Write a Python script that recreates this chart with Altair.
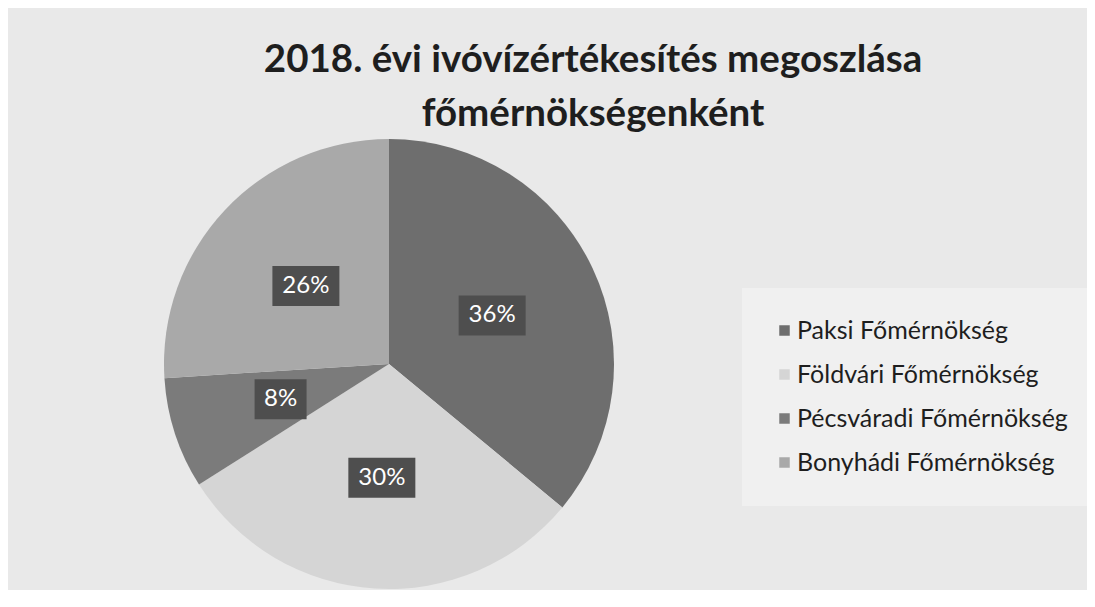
import altair as alt
import pandas as pd

categories = ["Paksi Főmérnökség", "Földvári Főmérnökség", "Pécsváradi Főmérnökség", "Bonyhádi Főmérnökség"]
shares = [36, 30, 8, 26]
labels = ["36%", "30%", "8%", "26%"]
colors = ["#6e6e6e", "#d5d5d5", "#7b7b7b", "#a9a9a9"]
title_lines = ["2018. évi ivóvízértékesítés megoszlása", "főmérnökségenként"]

df = pd.DataFrame({"cat": categories, "share": shares, "label": labels,
                   "idx": list(range(len(categories)))})

W, H = 762, 452
R = 225
RL = 114
FONT = "Lato"

color_scale = alt.Scale(domain=categories, range=colors)
xs = alt.Scale(domain=[-W / 2, W / 2], nice=False, zero=False)
ys = alt.Scale(domain=[-H / 2, H / 2], nice=False, zero=False, reverse=True)

base = alt.Chart(df)

pie = base.mark_arc(outerRadius=R).encode(
    theta=alt.Theta("share:Q", stack=True),
    order=alt.Order("idx:Q"),
    color=alt.Color("cat:N", scale=color_scale, sort=categories,
                    legend=alt.Legend(title=None, orient="none", legendX=734, legendY=150,
                                      padding=30, fillColor="#f0f0f0",
                                      symbolType="square", symbolSize=110,
                                      symbolStrokeWidth=0, symbolOpacity=1,
                                      labelFont=FONT, labelFontSize=25, labelColor="#1e1e1e",
                                      labelOffset=0, rowPadding=18, labelLimit=400)),
)

pos = base.transform_window(
    cum="sum(share)", sort=[alt.SortField("idx")], frame=[None, 0]
).transform_joinaggregate(total="sum(share)").transform_calculate(
    ang="(datum.cum - datum.share / 2) / datum.total * 2 * PI",
    px=f"{RL} * sin(datum.ang)",
    py=f"-{RL} * cos(datum.ang)",
    hw="11 + 7.5 * length(datum.label)",
    bx1="datum.px - datum.hw",
    bx2="datum.px + datum.hw",
    by1="datum.py - 20",
    by2="datum.py + 20",
)

boxes = pos.mark_rect(color="#4e4e4e").encode(
    x=alt.X("bx1:Q", scale=xs, axis=None),
    x2="bx2:Q",
    y=alt.Y("by1:Q", scale=ys, axis=None),
    y2="by2:Q",
)

texts = pos.mark_text(color="white", font=FONT, fontSize=24, align="center",
                      baseline="middle").encode(
    x=alt.X("px:Q", scale=xs, axis=None),
    y=alt.Y("py:Q", scale=ys, axis=None),
    text="label:N",
)

chart = alt.layer(pie, boxes, texts).properties(
    width=W, height=H,
    padding={"left": 0, "top": 130, "right": 1079 - W, "bottom": 0},
    autosize=alt.AutoSizeParams(type="none"),
    title=alt.TitleParams(title_lines, anchor="middle", frame="group", dx=204, offset=4,
                          font=FONT, fontSize=38.5, fontWeight="bold", color="#1e1e1e",
                          lineHeight=54),
).configure(background="#e9e9e9").configure_view(stroke=None)

chart.save("out.html", embed_options={"renderer": "svg", "actions": False})
